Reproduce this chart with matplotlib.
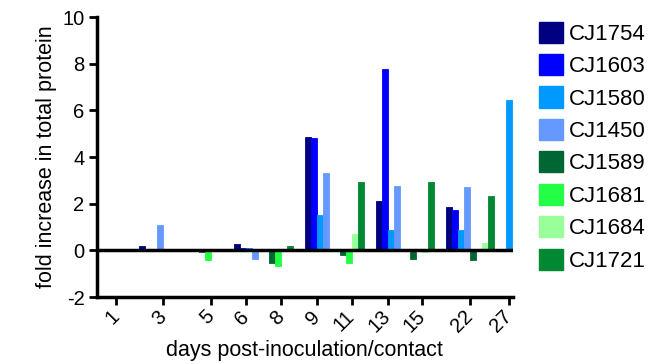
import numpy as np
import matplotlib
matplotlib.use("Agg")
import matplotlib.pyplot as plt
from matplotlib.patches import Patch

plt.rcParams["font.family"] = ["Liberation Sans", "DejaVu Sans"]
plt.rcParams["axes.unicode_minus"] = False

# ---------- data ----------
days = ["1", "3", "5", "6", "8", "9", "11", "13", "15", "22", "27"]
nan = np.nan
series = ["CJ1754", "CJ1603", "CJ1580", "CJ1450", "CJ1589", "CJ1681", "CJ1684", "CJ1721"]

cj1754 = [nan, 0.17, nan, 0.28, nan, 4.85, nan, 2.12, nan, 1.85, nan]
cj1603 = [nan, 0.0, nan, 0.1, nan, 4.8, nan, 7.78, nan, 1.72, nan]
cj1580 = [nan, 0.05, nan, 0.1, nan, 1.5, nan, 0.88, nan, 0.86, 6.44]
cj1450 = [nan, 1.07, nan, -0.35, nan, 3.3, nan, 2.75, nan, 2.7, nan]
cj1589 = [nan, 0.0, -0.05, nan, -0.52, nan, -0.2, nan, -0.35, -0.42, nan]
cj1681 = [nan, 0.0, -0.42, nan, -0.65, nan, -0.55, nan, 0.02, 0.05, nan]
cj1684 = [nan, 0.0, 0.0, nan, 0.0, nan, 0.72, nan, -0.05, 0.3, nan]
cj1721 = [nan, 0.0, 0.03, nan, 0.17, nan, 2.93, nan, 2.95, 2.33, nan]

values = [cj1754, cj1603, cj1580, cj1450, cj1589, cj1681, cj1684, cj1721]
colors = ["#000080", "#0000ff", "#0099ff", "#6699ff",
          "#006633", "#22ff44", "#99ff99", "#008833"]

# ---------- layout (category positions, in bar widths) ----------
xpos = [3.2, 11.0, 19.0, 24.8, 30.7, 36.7, 42.5, 48.5, 54.3, 62.3, 68.7]
bar_w = 1.0

fig = plt.figure(figsize=(6.58, 3.64), dpi=100)
ax = fig.add_axes([0.1474, 0.184, 0.632, 0.769])

for j, x in enumerate(xpos):
    present = [i for i in range(len(series)) if not np.isnan(values[i][j])]
    n = len(present)
    for k, i in enumerate(present):
        xc = x + (k - (n - 1) / 2.0) * bar_w
        ax.bar(xc, values[i][j], width=bar_w * 0.98, color=colors[i],
               edgecolor=colors[i], linewidth=0.6, zorder=2)

ax.axhline(0, color="k", lw=2.5, zorder=3)

ax.set_xlim(0, 69.4)
ax.set_ylim(-2, 10)
ax.set_yticks(np.arange(-2, 11, 2))
ax.set_xticks(xpos)
ax.set_xticklabels(days, rotation=45, ha="right", va="center",
                   rotation_mode="anchor")
ax.tick_params(axis="x", pad=6)
ax.tick_params(axis="y", pad=3)
ax.tick_params(labelsize=14.5, width=2, length=6, direction="out")

for s in ["top", "right"]:
    ax.spines[s].set_visible(False)
for s in ["left", "bottom"]:
    ax.spines[s].set_linewidth(2.5)

ax.set_ylabel("fold increase in total protein", fontsize=15.5, labelpad=4)
ax.set_xlabel("days post-inoculation/contact", fontsize=15.5)
ax.xaxis.set_label_coords(0.5, -0.155)
ax.xaxis.label.set_va("top")

handles = [Patch(facecolor=c, edgecolor=c) for c in colors]
fig.legend(handles, series, loc="upper left", bbox_to_anchor=(0.805, 0.965),
           frameon=False, fontsize=16, handlelength=1.08, handleheight=1.08,
           labelspacing=0.42, handletextpad=0.3, borderaxespad=0)

fig.savefig("out.png", dpi=100)
